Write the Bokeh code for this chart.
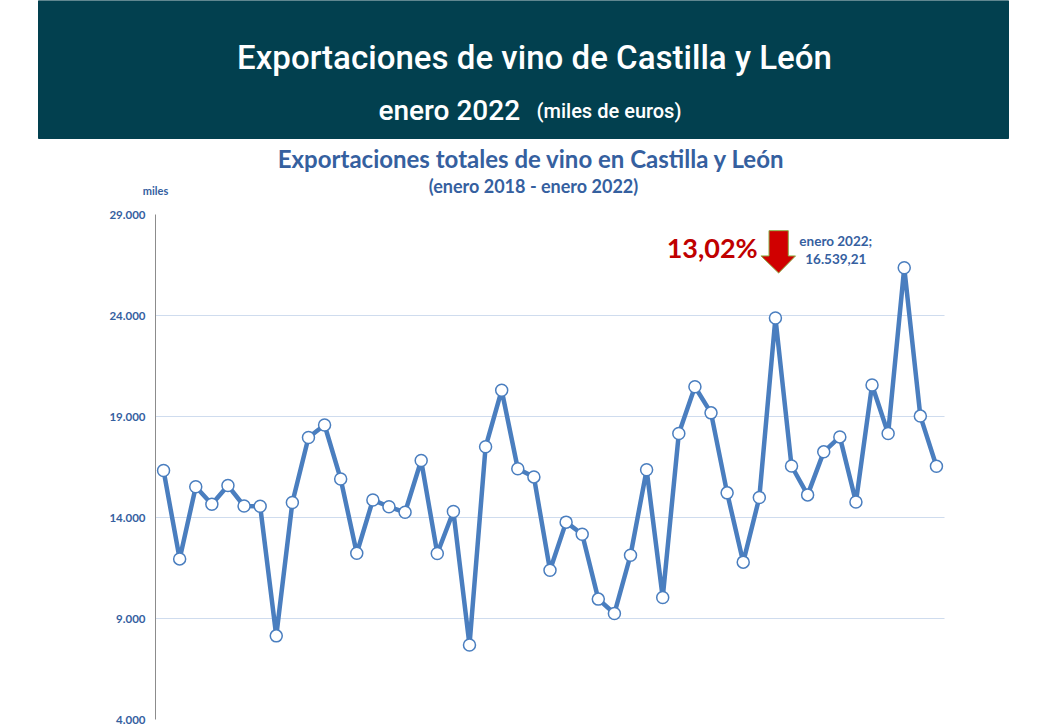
from bokeh.plotting import figure
from bokeh.models import Range1d, FixedTicker
from bokeh.core.properties import value
from bokeh.embed import file_html
from bokeh.resources import INLINE

# ---- data (miles de euros), enero 2018 .. enero 2022 ----
months = list(range(49))
exports = [16330, 11950, 15520, 14660, 15580, 14570, 14560, 8140, 14740, 17960,
           18580, 15910, 12230, 14870, 14530, 14260, 16820, 12220, 14300, 7690,
           17500, 20300, 16410, 16010, 11390, 13770, 13170, 9960, 9250, 12130,
           16360, 10040, 18160, 20470, 19180, 15220, 11790, 14990, 23880, 16550,
           15120, 17250, 17990, 14770, 20560, 18160, 26360, 19020, 16539.21]
y_ticks = [4000, 9000, 14000, 19000, 24000, 29000]
y_tick_labels = ["4.000", "9.000", "14.000", "19.000", "24.000", "29.000"]
grid_values = [9000, 14000, 19000, 24000]

header_title = "Exportaciones de vino de Castilla y León"
header_sub1 = "enero 2022"
header_sub2 = "(miles de euros)"
chart_title = "Exportaciones totales de vino en Castilla y León"
chart_sub = "(enero 2018 - enero 2022)"
unit_label = "miles"
pct_label = "13,02%"
last_label = ["enero 2022;", "16.539,21"]

BLUE = "#4A7EBF"
TXT_BLUE = "#35609F"
HEADER = "#02404F"
HEAD_FONT = "Roboto Medium, Roboto"

W, H = 1053, 727
# chart area on the page (pixels)
AL, AR, AT, AB = 155, 944, 214, 719
XMIN, XMAX = -0.5, 48.5
YMIN, YMAX = 4000, 29000
kx = (XMAX - XMIN) / (AR - AL)
ky = (YMAX - YMIN) / (AB - AT)
x_range = Range1d(XMIN - AL * kx, XMAX + (W - AR) * kx)
y_range = Range1d(YMIN - (H - AB) * ky, YMAX + AT * ky)

p = figure(width=W, height=H, x_range=x_range, y_range=y_range,
           output_backend="svg", toolbar_location=None, x_axis_location=None,
           y_axis_location="left", min_border=0, min_border_left=0, min_border_right=0,
           min_border_top=0, min_border_bottom=0, outline_line_color=None)
p.extra_x_ranges = {"page": Range1d(0, W)}
p.extra_y_ranges = {"page": Range1d(H, 0)}
p.grid.visible = False

ax = p.yaxis[0]
ax.fixed_location = XMIN
ax.bounds = (YMIN, YMAX)
ax.ticker = FixedTicker(ticks=y_ticks)
ax.major_label_overrides = dict(zip(y_ticks, y_tick_labels))
ax.major_tick_line_color = None
ax.major_tick_out = 0
ax.major_tick_in = 0
ax.minor_tick_line_color = None
ax.axis_line_color = "#8C8C8C"
ax.major_label_standoff = 10
ax.major_label_text_font = "Lato"
ax.major_label_text_font_style = "bold"
ax.major_label_text_font_size = "11.5px"
ax.major_label_text_color = TXT_BLUE

# horizontal gridlines across the chart area
p.segment(x0=[XMIN] * len(grid_values), x1=[XMAX] * len(grid_values),
          y0=grid_values, y1=grid_values, line_color="#CFDCEE", line_width=1.2)

# header band and titles (page-pixel coordinates)
pg = dict(x_range_name="page", y_range_name="page")
p.quad(left=[38], right=[1008], top=[0], bottom=[138], color=HEADER, **pg)


def lab(x, y, text, size, color, font="Lato", bold=False, align="center", baseline="middle"):
    p.text(x=[x], y=[y], text=[text], text_align=align, text_baseline=baseline,
           text_color=color, text_font=value(font), text_font_size=size,
           text_font_style="bold" if bold else "normal", **pg)


lab(534, 57, header_title, "33px", "white", font=HEAD_FONT)
lab(378, 110, header_sub1, "28px", "white", font=HEAD_FONT, align="left", baseline="alphabetic")
lab(536, 110, header_sub2, "20px", "white", font=HEAD_FONT, align="left", baseline="alphabetic")
lab(531, 158, chart_title, "24px", TXT_BLUE, bold=True)
lab(533, 185, chart_sub, "18px", TXT_BLUE, bold=True)
lab(155, 190, unit_label, "11px", TXT_BLUE, bold=True)

# data series
p.line(months, exports, line_width=4.5, color=BLUE)
p.scatter(months, exports, size=12, fill_color="white", line_color=BLUE, line_width=1.5)

# annotation: percentage + arrow + last value
p.text(x=[36.9], y=[27350], text=[pct_label], text_align="right", text_baseline="middle",
       text_color="#C00000", text_font=value("Lato"), text_font_style="bold",
       text_font_size="27px")
arrow_x = [37.6, 38.8, 38.8, 39.25, 38.2, 37.1, 37.6]
arrow_y = [28200, 28200, 26950, 26950, 26100, 26950, 26950]
p.patch(arrow_x, arrow_y, fill_color="#D00000", line_color="#8FB04A", line_width=1)
p.text(x=[41.75, 41.75], y=[27700, 26800], text=last_label, text_align="center",
       text_baseline="middle", text_color=TXT_BLUE, text_font=value("Lato"),
       text_font_style="bold", text_font_size="13.5px")

open("out.html", "w").write(file_html(p, INLINE))
